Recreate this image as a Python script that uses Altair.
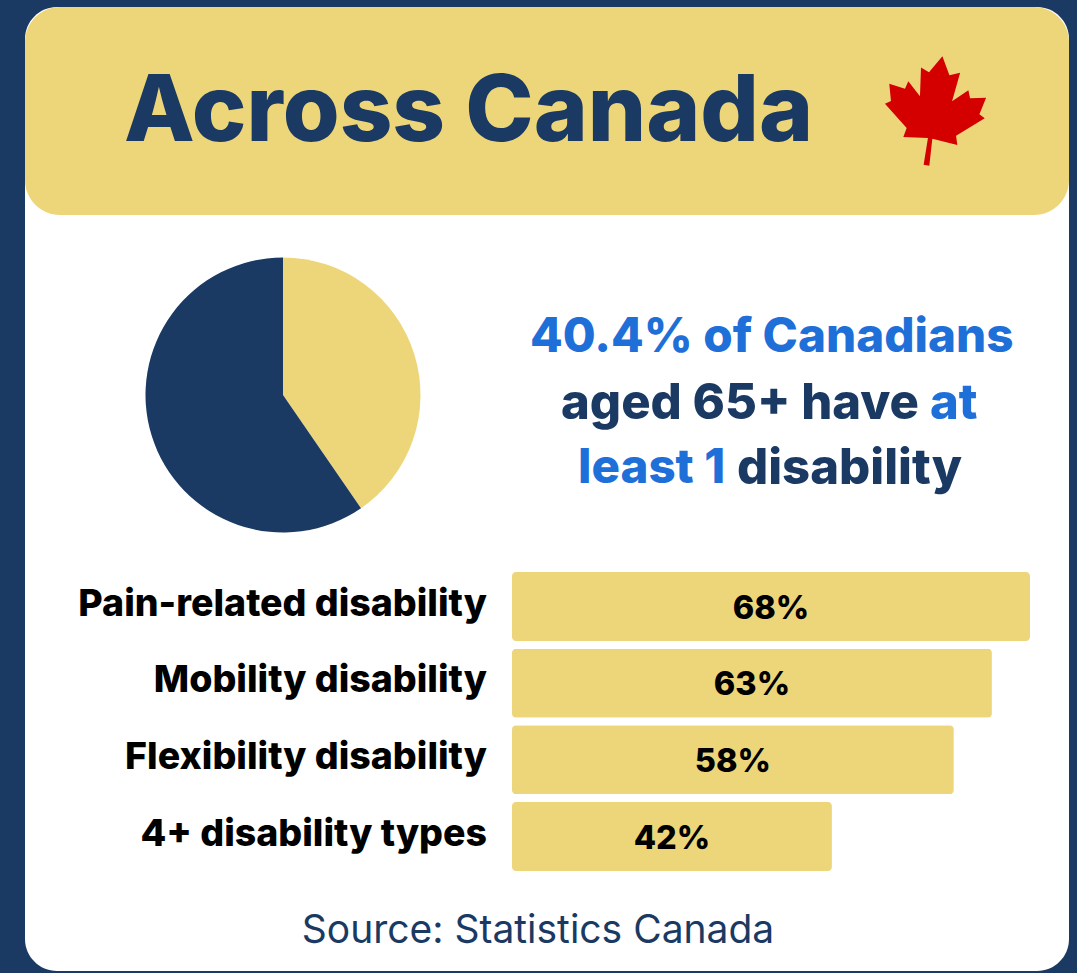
import altair as alt
import pandas as pd

# Figures shown on the card
categories = ["Pain-related disability", "Mobility disability", "Flexibility disability", "4+ disability types"]
shares = [68, 63, 58, 42]
share_labels = ["68%", "63%", "58%", "42%"]
pie_groups = ["At least 1 disability", "No disability"]
pie_values = [40.4, 59.6]

NAVY = "#1a3a63"
GOLD = "#edd67a"
BLUE = "#1f6fd8"
RED = "#d40000"
FONT = "Inter"

# Maple leaf outline in the symbol unit square
LEAF = ("M0.126,-1 L0.254,-0.652 L0.45,-0.701 L0.303,-0.176 L0.601,-0.378 L0.632,-0.232 "
        "L0.925,-0.244 L0.803,0.061 L0.9,0.134 L0.376,0.451 L0.399,0.622 L-0.058,0.506 "
        "L-0.113,1 L-0.217,0.982 L-0.138,0.494 L-0.588,0.476 L-0.527,0.311 L-0.924,-0.134 "
        "L-0.814,-0.183 L-0.845,-0.5 L-0.558,-0.409 L-0.497,-0.543 L-0.284,-0.268 "
        "L-0.265,-0.794 L-0.119,-0.708 Z")


def panel(x0, x1, y0, y1, color, radius):
    return alt.Chart().mark_rect(color=color, cornerRadius=radius).encode(
        x=alt.value(x0), x2=alt.value(x1), y=alt.value(y0), y2=alt.value(y1)
    )


def caption(text, x, y, size, color, weight=800, align="left"):
    return alt.Chart().mark_text(
        text=text, font=FONT, fontSize=size, fontWeight=weight, color=color,
        align=align, baseline="middle"
    ).encode(x=alt.value(x), y=alt.value(y))


bars_df = pd.DataFrame({"category": categories, "share": shares, "label": share_labels})
pie_df = pd.DataFrame({"group": pie_groups, "value": pie_values, "rank": [0, 1]})

x_scale = alt.Scale(domain=[0, 68], range=[512, 1030], nice=False)
y_scale = alt.Scale(domain=categories, range=[572, 871], paddingInner=0.1, paddingOuter=0)
x_enc = alt.X("share:Q", scale=x_scale, axis=None)
y_enc = alt.Y("category:N", scale=y_scale, axis=None, sort=categories)

pie = alt.Chart(pie_df).mark_arc(outerRadius=137.5).encode(
    theta=alt.Theta("value:Q", stack=True),
    order=alt.Order("rank:Q"),
    color=alt.Color("group:N", scale=alt.Scale(domain=pie_groups, range=[GOLD, NAVY]), legend=None),
    x=alt.value(283),
    y=alt.value(395),
)

bars = alt.Chart(bars_df).mark_bar(color=GOLD, cornerRadius=4).encode(x=x_enc, y=y_enc)

bar_values = alt.Chart(bars_df).transform_calculate(mid="datum.share / 2").mark_text(
    font=FONT, fontSize=32.5, fontWeight=800, color="#000000", dy=2
).encode(
    x=alt.X("mid:Q", scale=x_scale, axis=None),
    y=y_enc,
    text="label:N",
)

bar_names = alt.Chart(bars_df).mark_text(
    font=FONT, fontSize=37.5, fontWeight=800, color="#000000", align="right", dy=-2
).encode(x=alt.value(487), y=y_enc, text="category:N")

leaf = alt.Chart().mark_point(shape=LEAF, size=11970, filled=True, color=RED, opacity=1).encode(
    x=alt.value(935.5), y=alt.value(111)
)

chart = alt.layer(
    panel(25, 1069, 7, 971, "#ffffff", 32),
    panel(25, 1069, 7, 215, GOLD, 35),
    caption("Across Canada", 124, 113, 92, NAVY, 800),
    leaf,
    pie,
    caption("40.4% of Canadians", 530, 338, 47.6, BLUE),
    caption("aged 65+ have", 561, 404, 49, NAVY),
    caption("at", 930, 404, 49, BLUE),
    caption("least 1", 578, 469, 47.5, BLUE),
    caption("disability", 737, 469, 49, NAVY),
    bars,
    bar_values,
    bar_names,
    caption("Source: Statistics Canada", 538, 931, 39, NAVY, 400, "center"),
).properties(
    width=1077,
    height=973,
    padding=0,
    autosize=alt.AutoSizeParams(type="none"),
    background=NAVY,
).configure_view(strokeWidth=0)

chart.save("out.html", embed_options={"renderer": "svg", "actions": False})
